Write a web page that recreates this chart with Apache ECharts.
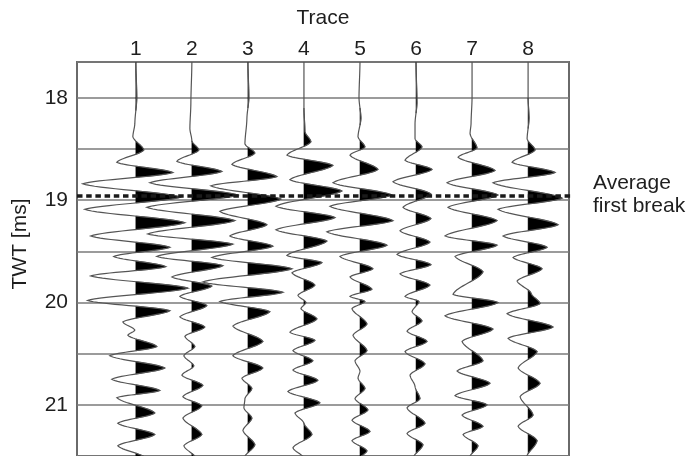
<!DOCTYPE html>
<html>
<head>
<meta charset="utf-8">
<script src="https://cdn.jsdelivr.net/npm/echarts@6/dist/echarts.min.js"></script>
<style>
html,body{margin:0;padding:0;background:#fff;}
#chart{width:700px;height:456px;}
</style>
</head>
<body>
<div id="chart"></div>
<script>
// ---------------- data ----------------
const TRACE_LABELS = ['1', '2', '3', '4', '5', '6', '7', '8'];
const TIME_LABELS = [18, 19, 20, 21];
const FIRST_BREAK = 18.96;               // average first break time [ms]
const BREAK_LINE_X = [-0.05, 8.93];      // extent of dashed marker (trace units)

// Wiggle keypoints per trace: [time ms, amplitude]
const TRACE_1 = [[17.65,0],[18.00,1],[18.25,-1],[18.38,-3],[18.51,8],[18.63,-19],[18.73,37],[18.84,-53],[18.97,45],[19.09,-51],[19.22,49],[19.35,-45],[19.46,34],[19.55,-22],[19.65,30],[19.74,-45],[19.86,52],[19.98,-48],[20.08,34],[20.19,-13],[20.27,-1],[20.32,-8],[20.43,21],[20.52,-26],[20.64,29],[20.75,-24],[20.86,24],[20.93,-19],[21.08,19],[21.18,-18],[21.29,19],[21.40,-18],[21.52,10]];
const TRACE_2 = [[17.65,0],[18.05,-1],[18.30,-2],[18.42,0],[18.51,7],[18.62,-15],[18.72,30],[18.83,-42],[18.95,46],[19.07,-45],[19.20,43],[19.33,-44],[19.43,41],[19.55,-35],[19.64,31],[19.75,-20],[19.84,20],[19.94,-12],[20.03,15],[20.14,-12],[20.24,13],[20.33,-7],[20.43,3],[20.52,-8],[20.62,2],[20.71,-10],[20.81,11],[20.92,-9],[21.01,10],[21.13,-9],[21.29,10],[21.40,-8],[21.52,4]];
const TRACE_3 = [[17.65,0],[18.00,1],[18.20,-1],[18.45,-3],[18.54,7],[18.65,-16],[18.77,29],[18.86,-37],[18.99,33],[19.11,-28],[19.24,19],[19.35,-18],[19.45,25],[19.56,-36],[19.67,44],[19.80,-45],[19.90,35],[19.99,-28],[20.09,22],[20.23,-15],[20.38,15],[20.52,-15],[20.64,15],[20.74,-6],[20.84,4],[20.94,-3],[21.03,-4],[21.13,4],[21.25,-5],[21.39,7],[21.52,-4]];
const TRACE_4 = [[17.65,0],[18.10,0],[18.33,1],[18.43,7],[18.56,-17],[18.66,29],[18.80,-14],[18.91,38],[19.06,-28],[19.17,31],[19.29,-28],[19.40,23],[19.54,-17],[19.61,18],[19.71,-12],[19.83,11],[19.93,-6],[20.00,2],[20.06,-3],[20.16,13],[20.29,-14],[20.37,11],[20.47,-11],[20.57,9],[20.66,-11],[20.76,14],[20.87,-16],[20.98,16],[21.08,-9],[21.18,0],[21.29,8],[21.42,-11],[21.52,0]];
const TRACE_5 = [[17.65,0],[18.00,-1],[18.20,1],[18.38,-2],[18.48,5],[18.56,-10],[18.70,18],[18.83,-27],[18.95,32],[19.06,-30],[19.20,33],[19.31,-33],[19.44,27],[19.55,-20],[19.67,13],[19.75,-10],[19.87,12],[19.94,-10],[19.99,5],[20.06,-8],[20.21,7],[20.32,-7],[20.47,7],[20.57,-5],[20.67,0],[20.74,-2],[20.84,5],[20.94,-5],[21.05,8],[21.15,-8],[21.26,10],[21.35,-8],[21.45,7],[21.52,0]];
const TRACE_6 = [[17.65,0],[18.05,1],[18.25,-1],[18.40,-1],[18.48,6],[18.61,-11],[18.70,16],[18.82,-23],[18.94,15],[19.07,-13],[19.18,15],[19.30,-16],[19.41,14],[19.53,-19],[19.63,15],[19.72,-16],[19.83,14],[19.94,-11],[19.99,3],[20.09,-4],[20.18,6],[20.28,-9],[20.38,11],[20.48,-11],[20.60,9],[20.71,-6],[20.82,-1],[20.94,4],[21.03,-9],[21.18,9],[21.28,-9],[21.39,7],[21.52,-3]];
const TRACE_7 = [[17.65,0],[18.00,0],[18.25,-1],[18.35,-2],[18.49,5],[18.58,-14],[18.71,23],[18.83,-25],[18.95,26],[19.07,-24],[19.20,25],[19.35,-27],[19.44,25],[19.55,-17],[19.70,11],[19.92,-19],[20.00,26],[20.13,-27],[20.26,21],[20.38,-10],[20.57,11],[20.67,-15],[20.79,18],[20.91,-17],[21.00,15],[21.10,-10],[21.21,11],[21.29,-9],[21.40,6],[21.52,-3]];
const TRACE_8 = [[17.65,0],[18.00,0],[18.20,1],[18.40,-1],[18.51,7],[18.63,-16],[18.73,27],[18.83,-35],[18.98,34],[19.09,-30],[19.24,30],[19.35,-25],[19.46,19],[19.56,-15],[19.67,14],[19.79,-11],[19.91,3],[20.01,12],[20.11,-21],[20.24,25],[20.35,-20],[20.48,9],[20.64,-10],[20.79,12],[20.92,-8],[21.10,5],[21.21,-10],[21.35,9],[21.52,-2]];

const TRACES = [TRACE_1, TRACE_2, TRACE_3, TRACE_4, TRACE_5, TRACE_6, TRACE_7, TRACE_8];

// ---------------- display ----------------
const GAIN = 1 / 56;   // amplitude units -> trace spacing
const FONT = '"Liberation Sans", Arial, Helvetica, sans-serif';
const FS = 21;
const TXT = '#1e1e1e';

// smooth wavelet curve through keypoints (rendering only)
function wiggle(keys) {
  const pts = [];
  for (let k = 0; k < keys.length - 1; k++) {
    const t1 = keys[k][0], a1 = keys[k][1];
    const t2 = keys[k + 1][0], a2 = keys[k + 1][1];
    const n = 16;
    for (let j = (k === 0 ? 0 : 1); j <= n; j++) {
      const s = j / n;
      const f = 0.35 * s + 0.65 * (1 - Math.cos(Math.PI * s)) / 2;
      pts.push([t1 + (t2 - t1) * s, a1 + (a2 - a1) * f]);
    }
  }
  return pts;
}

function renderTrace(params, api) {
  const idx = params.dataIndex;
  const base = idx + 1;
  const pts = wiggle(TRACES[idx]);
  const polys = [];
  let cur = null;
  for (let i = 0; i < pts.length; i++) {
    const t = pts[i][0], a = pts[i][1];
    if (a > 0) {
      if (!cur) {
        let tc = t;
        if (i > 0) {
          const tp = pts[i - 1][0], ap = pts[i - 1][1];
          tc = tp + (t - tp) * (0 - ap) / (a - ap);
        }
        cur = [[base, tc]];
      }
      cur.push([base + a * GAIN, t]);
    } else if (cur) {
      const tp = pts[i - 1][0], ap = pts[i - 1][1];
      const tc = tp + (t - tp) * (0 - ap) / (a - ap);
      cur.push([base, tc]);
      polys.push(cur);
      cur = null;
    }
  }
  if (cur) { cur.push([base, cur[cur.length - 1][1]]); polys.push(cur); }
  const children = polys.map(p => ({
    type: 'polygon',
    shape: { points: p.map(q => api.coord(q)) },
    style: { fill: '#000', stroke: '#000', lineWidth: 0.5 }
  }));
  children.push({
    type: 'polyline',
    shape: { points: pts.map(p => api.coord([base + p[1] * GAIN, p[0]])) },
    style: { stroke: '#555', lineWidth: 1.2, fill: null }
  });
  return { type: 'group', children: children };
}

const chart = echarts.init(document.getElementById('chart'), null, { renderer: 'canvas' });

const option = {
  animation: false,
  backgroundColor: '#fff',
  grid: {
    left: 77, top: 62, width: 492, height: 397,
    show: true, borderColor: '#6a6a6a', borderWidth: 2, backgroundColor: 'transparent'
  },
  xAxis: {
    type: 'value', position: 'top',
    min: -0.05, max: 8.73, splitNumber: 9, minInterval: 1, maxInterval: 1,
    name: 'Trace', nameLocation: 'middle', nameGap: 33,
    nameTextStyle: { fontSize: FS, color: TXT, fontFamily: FONT },
    axisLine: { show: false }, axisTick: { show: false }, splitLine: { show: false },
    axisLabel: {
      fontSize: FS, color: TXT, fontFamily: FONT, margin: 2,
      formatter: function (v) {
        const r = Math.round(v);
        return (Math.abs(v - r) < 1e-6 && r >= 1 && r <= TRACE_LABELS.length) ? TRACE_LABELS[r - 1] : '';
      }
    }
  },
  yAxis: {
    type: 'value', inverse: true,
    min: 17.65, max: 21.5, splitNumber: 8, minInterval: 0.5, maxInterval: 0.5,
    axisLine: { show: false }, axisTick: { show: false },
    splitLine: { show: true, lineStyle: { color: '#7a7a7a', width: 1.6 } },
    axisLabel: {
      fontSize: FS, color: TXT, fontFamily: FONT, margin: 9,
      formatter: function (v) {
        const r = Math.round(v);
        return (Math.abs(v - r) < 1e-6 && TIME_LABELS.indexOf(r) >= 0) ? String(r) : '';
      }
    }
  },
  graphic: [
    {
      type: 'text', x: 20, y: 244, rotation: Math.PI / 2,
      style: { text: 'TWT [ms]', font: FS + 'px ' + FONT, fill: TXT, align: 'center', verticalAlign: 'middle' }
    },
    {
      type: 'text', x: 593, y: 172,
      style: { text: 'Average\nfirst break', font: FS + 'px ' + FONT, fill: TXT, lineHeight: 23, align: 'left', verticalAlign: 'top' }
    }
  ],
  series: [
    {
      type: 'custom',
      renderItem: renderTrace,
      data: TRACES.map((_, i) => [i + 1, FIRST_BREAK]),
      encode: { x: 0, y: 1 },
      z: 3,
      silent: true
    },
    {
      type: 'line',
      data: [[BREAK_LINE_X[0], FIRST_BREAK], [BREAK_LINE_X[1], FIRST_BREAK]],
      symbol: 'none', clip: false, silent: true, z: 5,
      lineStyle: { color: '#1a1a1a', width: 3.5, type: [5.5, 3.7], cap: 'butt' }
    }
  ]
};
chart.setOption(option);
</script>
</body>
</html>
